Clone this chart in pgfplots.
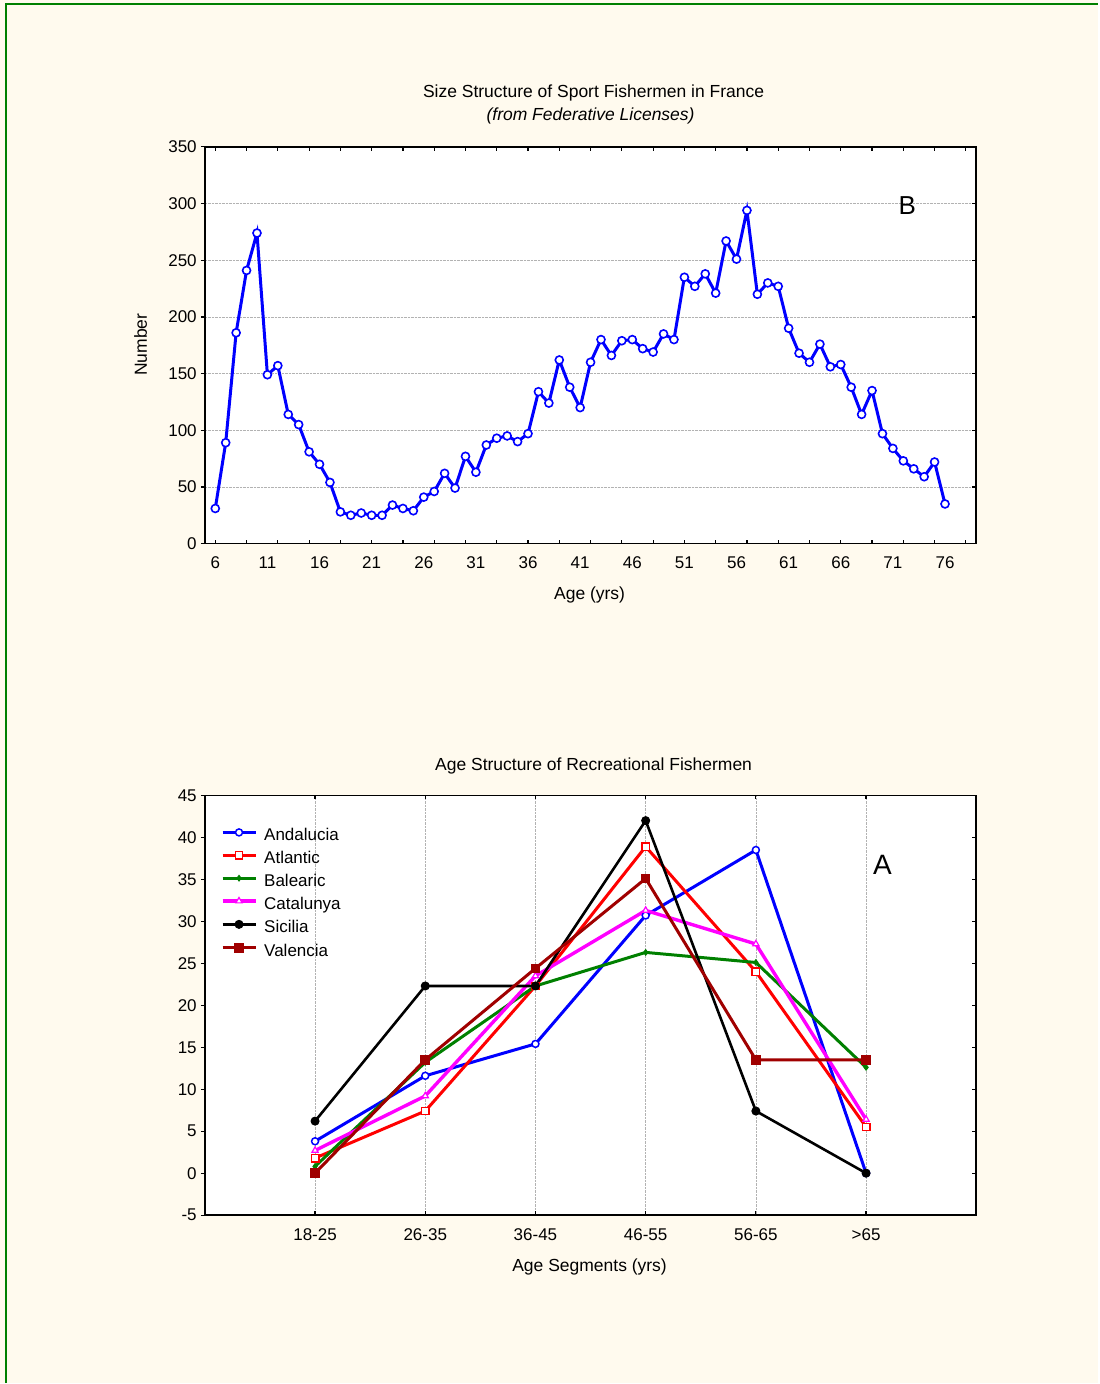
\documentclass[border=0pt]{standalone}
\usepackage{pgfplots}
\pgfplotsset{compat=1.18}
\usepackage{fontspec}
\setmainfont{Liberation Sans}
\definecolor{bgc}{RGB}{255,250,238}
\definecolor{brd}{RGB}{0,128,0}
\definecolor{dred}{RGB}{160,0,0}
\definecolor{ggreen}{RGB}{0,128,0}
\definecolor{mag}{RGB}{255,0,255}
\definecolor{pblue}{RGB}{0,0,255}
\definecolor{pred}{RGB}{255,0,0}
\newcommand{\fs}{\fontsize{17.5}{21}\selectfont}
\newcommand{\ft}{\fontsize{17}{20}\selectfont}
\pgfplotsset{
  common/.style={
    scale only axis,
    axis background/.style={fill=white},
    axis line style={line width=1.6pt},
    tick label style={font=\ft},
    /pgf/number format/assume math mode=true,
    tick style={black, line width=1.2pt},
    tick align=inside,
    major tick length=4pt, minor tick length=4pt,
    ytick pos=left,
    y tick style={xshift=-4pt},
    xticklabel style={inner sep=0pt, yshift=-13pt},
    yticklabel style={inner sep=0pt, xshift=-8pt},
    grid style={densely dotted, black!30, line width=0.7pt},
  },
  rightticks/.style={
    scale only axis,
    axis line style={line width=1.6pt},
    tick style={black, line width=1.2pt},
    tick align=inside,
    major tick length=4pt,
    xtick=\empty, yticklabels={},
    ytick pos=right,
  }
}
\begin{document}
\begin{tikzpicture}
\fill[bgc] (0pt,0pt) rectangle (1099pt,-1384pt);
\draw[brd, line width=2pt] (6pt,-1384pt) -- (6pt,-4pt) -- (1099pt,-4pt);

% ---------------- Top chart (B) ----------------
\begin{axis}[common, at={(205pt,-147pt)}, anchor=north west,
  width=772pt, height=397pt,
  xmin=5, xmax=79, ymin=0, ymax=350,
  xtick={6,11,...,76}, minor xtick={6,9,...,78},
  ytick={0,50,...,350}, minor ytick={0,50,...,350},
  major tick length=0pt,
  ymajorgrids]
\addplot[pblue, line width=3pt, mark=*, mark size=4pt,
  mark options={fill=white, draw=pblue, line width=1.6pt}] coordinates {
(6,31) (7,89) (8,186) (9,241) (10,274) (11,149) (12,157) (13,114) (14,105) (15,81)
(16,70) (17,54) (18,28) (19,25) (20,27) (21,25) (22,25) (23,34) (24,31) (25,29)
(26,41) (27,46) (28,62) (29,49) (30,77) (31,63) (32,87) (33,93) (34,95) (35,90)
(36,97) (37,134) (38,124) (39,162) (40,138) (41,120) (42,160) (43,180) (44,166) (45,179)
(46,180) (47,172) (48,169) (49,185) (50,180) (51,235) (52,227) (53,238) (54,221) (55,267)
(56,251) (57,294) (58,220) (59,230) (60,227) (61,190) (62,168) (63,160) (64,176) (65,156)
(66,158) (67,138) (68,114) (69,135) (70,97) (71,84) (72,73) (73,66) (74,59) (75,72)
(76,35)};
\end{axis}
\begin{axis}[rightticks, at={(205pt,-147pt)}, anchor=north west,
  width=772pt, height=397pt,
  xmin=5, xmax=79, ymin=0, ymax=350, ytick={0,50,...,350}]
\end{axis}

\node[font=\fs, anchor=base] at (594pt,-98pt) {Size Structure of Sport Fishermen in France};
\node[font=\fs, anchor=base] at (591pt,-121pt) {\textit{(from Federative Licenses)}};
\node[font=\fs, anchor=base] at (590pt,-600pt) {Age (yrs)};
\node[font=\fs, anchor=base, rotate=90] at (147pt,-345pt) {Number};
\node[font=\fontsize{26}{30}\selectfont, anchor=base] at (908pt,-215pt) {B};

% ---------------- Bottom chart (A) ----------------
\begin{axis}[common, at={(205pt,-796pt)}, anchor=north west,
  width=772pt, height=420pt,
  xmin=-1, xmax=6, ymin=-5, ymax=45,
  xtick={0,1,2,3,4,5},
  xticklabels={18-25,26-35,36-45,46-55,56-65,>65},
  ytick={-5,0,...,45},
  xmajorgrids,
  legend cell align=left,
  legend style={at={(rel axis cs:0,1)}, anchor=north west, xshift=16pt, yshift=-33.5pt,
    draw=none, fill=none, inner sep=0pt, outer sep=0pt,
    row sep=6.8pt, column sep=7pt, font=\ft,
    nodes={inner sep=0pt, text height=12pt, text depth=4pt, anchor=west}},
  legend image code/.code={\draw[mark repeat=2, mark phase=2, #1] plot coordinates {(0pt,4.5pt) (16.5pt,4.5pt) (33pt,4.5pt)};}
  ]
\addplot[pblue, line width=3pt, mark=*, mark size=3.5pt,
  mark options={fill=white, draw=pblue, line width=1.5pt}] coordinates {
  (0,3.8) (1,11.6) (2,15.4) (3,30.7) (4,38.5) (5,0)};
\addlegendentry{Andalucia}
\addplot[pred, line width=3pt, mark=square*, mark size=3.7pt,
  mark options={fill=white, draw=pred, line width=1.5pt}] coordinates {
  (0,1.8) (1,7.4) (2,22.3) (3,38.9) (4,24) (5,5.5)};
\addlegendentry{Atlantic}
\addplot[ggreen, line width=3pt, mark=diamond*, mark size=2.8pt,
  mark options={fill=ggreen, draw=ggreen, line width=1pt}] coordinates {
  (0,0.8) (1,13.2) (2,22.3) (3,26.3) (4,25.1) (5,12.6)};
\addlegendentry{Balearic}
\addplot[mag, line width=3.4pt, mark=triangle*, mark size=3.6pt,
  mark options={fill=white, draw=mag, line width=1.2pt}] coordinates {
  (0,2.7) (1,9.2) (2,23.5) (3,31.3) (4,27.3) (5,6.4)};
\addlegendentry{Catalunya}
\addplot[black, line width=2.6pt, mark=*, mark size=4pt,
  mark options={fill=black, draw=black, line width=1pt}] coordinates {
  (0,6.2) (1,22.3) (2,22.3) (3,42) (4,7.4) (5,0)};
\addlegendentry{Sicilia}
\addplot[dred, line width=3pt, mark=square*, mark size=4.3pt,
  mark options={fill=dred, draw=dred, line width=1pt}] coordinates {
  (0,0) (1,13.5) (2,24.4) (3,35.1) (4,13.5) (5,13.5)};
\addlegendentry{Valencia}
\end{axis}
\begin{axis}[rightticks, at={(205pt,-796pt)}, anchor=north west,
  width=772pt, height=420pt,
  xmin=-1, xmax=6, ymin=-5, ymax=45, ytick={-5,0,...,45}]
\end{axis}

\node[font=\fs, anchor=base] at (594pt,-771pt) {Age Structure of Recreational Fishermen};
\node[font=\fs, anchor=base] at (590pt,-1272pt) {Age Segments (yrs)};
\node[font=\fontsize{28}{32}\selectfont, anchor=base] at (883pt,-875pt) {A};
\end{tikzpicture}
\end{document}
